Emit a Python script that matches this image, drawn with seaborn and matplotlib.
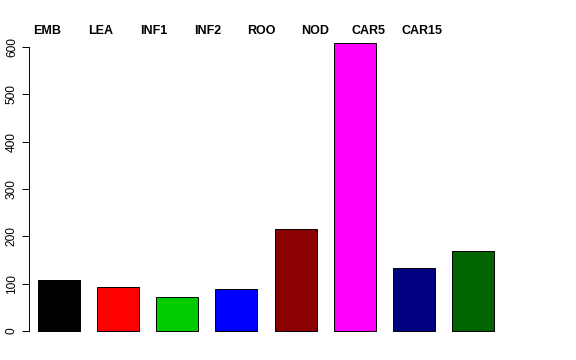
import matplotlib
matplotlib.use("Agg")
import matplotlib.pyplot as plt
import seaborn as sns
import pandas as pd

# data
tissues = ["EMB", "LEA", "INF1", "INF2", "ROO", "NOD", "CAR5", "CAR15"]
counts = [107, 92, 71, 88, 215, 608, 134, 168]
bar_colors = ["#000000", "#FF0000", "#00CD00", "#0000FF",
              "#8B0000", "#FF00FF", "#000080", "#006400"]
y_ticks = [0, 100, 200, 300, 400, 500, 600]

df = pd.DataFrame({"tissue": tissues, "count": counts})

sns.set_style("white")
plt.rcParams["font.family"] = ["Liberation Sans", "DejaVu Sans"]
plt.rcParams["text.color"] = "black"
plt.rcParams["ytick.color"] = "black"

W, H = 576, 360
fig = plt.figure(figsize=(W / 100, H / 100), dpi=100)
# plot region in pixels: left 29, right 503, top 31.7, bottom 342.5
ax = fig.add_axes([29 / W, 1 - 342.5 / H, (503 - 29) / W, (342.5 - 31.7) / H])

sns.barplot(data=df, x="tissue", y="count", hue="tissue", palette=bar_colors,
            legend=False, width=0.71, edgecolor="black", linewidth=0.7,
            saturation=1, ax=ax)

ax.set_xlim(-0.506, 7.506)
ax.set_ylim(-24.3, 632.3)
ax.set_yticks(y_ticks)
ax.set_yticklabels([str(t) for t in y_ticks], rotation=90, va="center",
                   fontsize=8.6, color="black")
ax.tick_params(axis="y", length=5, width=0.7, pad=3, left=True, color="black")
ax.set_xticks([])
ax.set_xlabel("")
ax.set_ylabel("")
for s in ["top", "right", "bottom"]:
    ax.spines[s].set_visible(False)
ax.spines["left"].set_bounds(0, 600)
ax.spines["left"].set_linewidth(0.7)
ax.spines["left"].set_color("black")

# tissue names along the top, evenly spread
for i, name in enumerate(tissues):
    fig.text((47 + 53.6 * i) / W, 1 - 30.5 / H, name, ha="center",
             va="center", fontsize=9, fontweight="bold", color="black")

fig.savefig("out.png", dpi=100)
